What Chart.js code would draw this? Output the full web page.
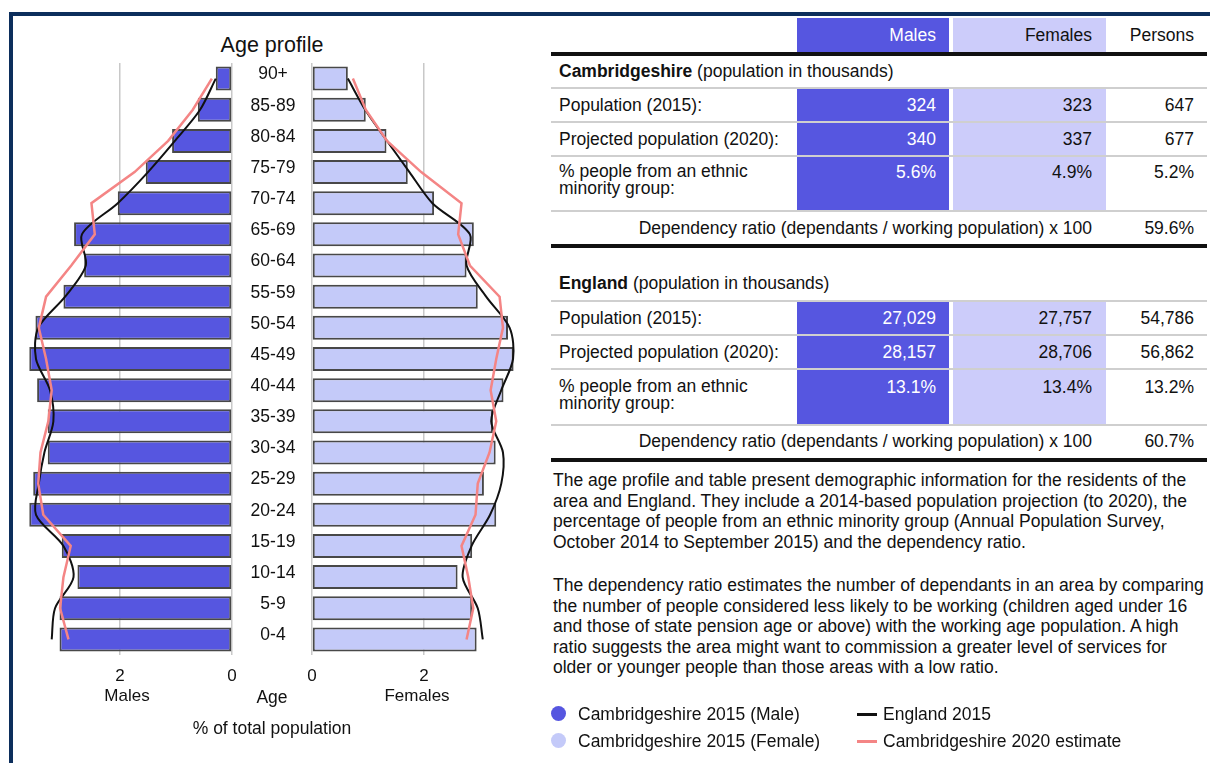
<!DOCTYPE html>
<html>
<head>
<meta charset="utf-8">
<script src="https://cdn.jsdelivr.net/npm/chart.js@4.4.0/dist/chart.umd.min.js"></script>
<style>
  body { margin: 0; background: #fff; font-family: "Liberation Sans", Arial, sans-serif; color: #111; }
  #page { position: relative; width: 1210px; height: 763px; overflow: hidden; }
  #frame { position: absolute; left: 9px; top: 12px; width: 1300px; height: 800px;
           border-top: 4px solid #0c2e5c; border-left: 4px solid #0c2e5c; }
  canvas { position: absolute; }
  .t { position: absolute; white-space: nowrap; font-size: 17.5px; line-height: 20px; }
  .m { right: 274px; color: #fff; text-align: right; }
  .f { right: 118px; text-align: right; }
  .p { right: 16px; text-align: right; }
  .lab { left: 559px; }
  .cellM { position: absolute; left: 797px; width: 152px; background: #5656e0; }
  .cellF { position: absolute; left: 953px; width: 153px; background: #ccccfa; }
  .gray { position: absolute; left: 551px; width: 656px; height: 2px; background: #cfcfcf; }
  .thick { position: absolute; left: 551px; width: 656px; height: 4px; background: #111; }
  .two { line-height: 17px; }
  .para { position: absolute; left: 553px; font-size: 17.5px; line-height: 20.5px; white-space: nowrap; }
  .dot { position: absolute; width: 15px; height: 15px; border-radius: 50%; }
  .dash { position: absolute; width: 20px; height: 3px; }
</style>
</head>
<body>
<div id="page">
  <div id="frame"></div>

  <div class="t" style="left:172px;width:200px;text-align:center;top:33px;font-size:21.5px;line-height:24px;">Age profile</div>
  <canvas id="maleChart" width="222" height="655" style="left:14px;top:55px;"></canvas>
  <canvas id="femaleChart" width="300" height="655" style="left:232px;top:55px;"></canvas>
  <div class="t" style="left:172px;width:200px;text-align:center;top:687px;">Age</div>
  <div class="t" style="left:172px;width:200px;text-align:center;top:718px;">% of total population</div>

  <!-- table: Cambridgeshire -->
  <div class="cellM" style="top:18px;height:34px;"></div>
  <div class="cellF" style="top:18px;height:34px;"></div>
  <div class="t m" style="top:25px;">Males</div>
  <div class="t f" style="top:25px;">Females</div>
  <div class="t p" style="top:25px;">Persons</div>
  <div class="thick" style="top:52px;"></div>

  <div class="t lab" style="top:61px;"><b>Cambridgeshire</b> (population in thousands)</div>
  <div class="cellM" style="top:89px;height:121px;"></div>
  <div class="cellF" style="top:89px;height:121px;"></div>
  <div class="gray" style="top:87px;"></div>
  <div class="t lab" style="top:95px;">Population (2015):</div>
  <div class="t m" style="top:95px;">324</div>
  <div class="t f" style="top:95px;">323</div>
  <div class="t p" style="top:95px;">647</div>
  <div class="gray" style="top:121px;"></div>
  <div class="t lab" style="top:129px;">Projected population (2020):</div>
  <div class="t m" style="top:129px;">340</div>
  <div class="t f" style="top:129px;">337</div>
  <div class="t p" style="top:129px;">677</div>
  <div class="gray" style="top:155px;"></div>
  <div class="t lab two" style="top:163px;">% people from an ethnic<br>minority group:</div>
  <div class="t m" style="top:162px;">5.6%</div>
  <div class="t f" style="top:162px;">4.9%</div>
  <div class="t p" style="top:162px;">5.2%</div>
  <div class="gray" style="top:210px;"></div>
  <div class="t f" style="top:218px;">Dependency ratio (dependants / working population) x 100</div>
  <div class="t p" style="top:218px;">59.6%</div>
  <div class="thick" style="top:244px;"></div>

  <!-- table: England -->
  <div class="t lab" style="top:273px;"><b>England</b> (population in thousands)</div>
  <div class="cellM" style="top:302px;height:122px;"></div>
  <div class="cellF" style="top:302px;height:122px;"></div>
  <div class="gray" style="top:300px;"></div>
  <div class="t lab" style="top:308px;">Population (2015):</div>
  <div class="t m" style="top:308px;">27,029</div>
  <div class="t f" style="top:308px;">27,757</div>
  <div class="t p" style="top:308px;">54,786</div>
  <div class="gray" style="top:334px;"></div>
  <div class="t lab" style="top:342px;">Projected population (2020):</div>
  <div class="t m" style="top:342px;">28,157</div>
  <div class="t f" style="top:342px;">28,706</div>
  <div class="t p" style="top:342px;">56,862</div>
  <div class="gray" style="top:368px;"></div>
  <div class="t lab two" style="top:378px;">% people from an ethnic<br>minority group:</div>
  <div class="t m" style="top:377px;">13.1%</div>
  <div class="t f" style="top:377px;">13.4%</div>
  <div class="t p" style="top:377px;">13.2%</div>
  <div class="gray" style="top:424px;"></div>
  <div class="t f" style="top:431px;">Dependency ratio (dependants / working population) x 100</div>
  <div class="t p" style="top:431px;">60.7%</div>
  <div class="thick" style="top:458px;"></div>

  <div class="para" style="top:470px;">The age profile and table present demographic information for the residents of the<br>area and England. They include a 2014-based population projection (to 2020), the<br>percentage of people from an ethnic minority group (Annual Population Survey,<br>October 2014 to September 2015) and the dependency ratio.</div>
  <div class="para" style="top:575px;">The dependency ratio estimates the number of dependants in an area by comparing<br>the number of people considered less likely to be working (children aged under 16<br>and those of state pension age or above) with the working age population. A high<br>ratio suggests the area might want to commission a greater level of services for<br>older or younger people than those areas with a low ratio.</div>

  <!-- legend -->
  <div class="dot" style="left:551px;top:706px;background:#5656e0;"></div>
  <div class="t" style="left:578px;top:704px;">Cambridgeshire 2015 (Male)</div>
  <div class="dot" style="left:551px;top:733px;background:#c4caf9;"></div>
  <div class="t" style="left:578px;top:731px;">Cambridgeshire 2015 (Female)</div>
  <div class="dash" style="left:857px;top:713px;background:#111;"></div>
  <div class="t" style="left:883px;top:704px;">England 2015</div>
  <div class="dash" style="left:857px;top:740px;background:#f48585;"></div>
  <div class="t" style="left:883px;top:731px;">Cambridgeshire 2020 estimate</div>
</div>

<script>
// Age bands, oldest at the top
const ageBands = ["90+", "85-89", "80-84", "75-79", "70-74", "65-69", "60-64", "55-59", "50-54", "45-49",
                  "40-44", "35-39", "30-34", "25-29", "20-24", "15-19", "10-14", "5-9", "0-4"];

// % of total population
const maleCambs2015   = [0.29, 0.61, 1.07, 1.54, 2.04, 2.82, 2.64, 3.01, 3.51, 3.62, 3.48, 3.29, 3.29, 3.55, 3.62, 3.04, 2.76, 3.08, 3.08];
const femaleCambs2015 = [0.64, 0.96, 1.33, 1.71, 2.18, 2.89, 2.76, 2.96, 3.50, 3.60, 3.42, 3.23, 3.28, 3.07, 3.29, 2.86, 2.60, 2.86, 2.94];
const maleEngland2015   = [0.29, 0.57, 1.02, 1.50, 2.04, 2.68, 2.61, 2.98, 3.46, 3.50, 3.25, 3.19, 3.35, 3.45, 3.50, 3.01, 2.83, 3.16, 3.22];
const femaleEngland2015 = [0.64, 0.95, 1.34, 1.74, 2.15, 2.82, 2.76, 3.11, 3.53, 3.59, 3.38, 3.20, 3.41, 3.38, 3.18, 2.85, 2.69, 2.96, 3.05];
const maleCambs2020   = [0.36, 0.70, 1.14, 1.74, 2.51, 2.45, 2.87, 3.32, 3.45, 3.32, 3.22, 3.28, 3.42, 3.46, 3.37, 2.88, 3.01, 3.07, 2.92];
const femaleCambs2020 = [0.73, 0.96, 1.34, 1.95, 2.67, 2.61, 2.82, 3.35, 3.41, 3.29, 3.19, 3.29, 3.17, 2.96, 2.92, 2.67, 2.79, 2.88, 2.76];

const axisTicks = [0, 2];
const xMax = 3.75;

const MALE_BLUE = "#5656e0";
const FEMALE_BLUE = "#c4caf9";
const PINK = "#f48585";
const FONT = "'Liberation Sans', Arial, sans-serif";

function buildDatasets(bars, england, cambs2020, colour) {
  return [
    {
      type: "line", data: cambs2020, indexAxis: "y", order: 0,
      borderColor: PINK, borderWidth: 2.5, pointRadius: 0, tension: 0, fill: false,
    },
    {
      type: "line", data: england, indexAxis: "y", order: 1,
      borderColor: "#111", borderWidth: 2, pointRadius: 0, tension: 0.3, fill: false,
    },
    {
      type: "bar", data: bars, indexAxis: "y", order: 2,
      backgroundColor: colour, borderColor: "#484848", borderWidth: 2, borderSkipped: false,
      barPercentage: 0.77, categoryPercentage: 1,
    },
  ];
}

function xScale(title, reverse) {
  return {
    reverse: reverse,
    min: 0,
    max: xMax,
    afterBuildTicks: (s) => { s.ticks = axisTicks.map((v) => ({ value: v })); },
    afterFit: (s) => { s.height = 55; },
    ticks: { color: "#111", font: { family: FONT, size: 17 }, padding: 11 },
    grid: { color: "#c8c8c8", lineWidth: 1.5, drawTicks: false },
    border: { display: false },
    title: { display: true, text: title, color: "#111", font: { family: FONT, size: 17 }, padding: { top: 0, bottom: 3 } },
  };
}

// Age band names in the gap between the two halves, placed on the y scale
const ageLabels = {
  id: "ageLabels",
  afterDraw(chart) {
    const { ctx, chartArea, scales } = chart;
    ctx.save();
    ctx.font = "17.5px " + FONT;
    ctx.fillStyle = "#111";
    ctx.textAlign = "center";
    ctx.textBaseline = "middle";
    ageBands.forEach((band, i) => {
      ctx.fillText(band, chartArea.left - 39, scales.y.getPixelForValue(i) - 4);
    });
    ctx.restore();
  },
};

// Males: axis runs right to left
new Chart(document.getElementById("maleChart"), {
  type: "bar",
  data: { labels: ageBands, datasets: buildDatasets(maleCambs2015, maleEngland2015, maleCambs2020, MALE_BLUE) },
  options: {
    indexAxis: "y",
    responsive: false,
    animation: false,
    layout: { padding: { left: 8, right: 4, top: 8, bottom: 0 } },
    plugins: { legend: { display: false }, tooltip: { enabled: false } },
    scales: {
      x: xScale("Males", true),
      y: { display: false },
    },
  },
});

// Females
new Chart(document.getElementById("femaleChart"), {
  type: "bar",
  data: { labels: ageBands, datasets: buildDatasets(femaleCambs2015, femaleEngland2015, femaleCambs2020, FEMALE_BLUE) },
  options: {
    indexAxis: "y",
    responsive: false,
    animation: false,
    layout: { padding: { left: 80, right: 10, top: 8, bottom: 0 } },
    plugins: { legend: { display: false }, tooltip: { enabled: false } },
    scales: {
      x: xScale("Females", false),
      y: { display: false },
    },
  },
  plugins: [ageLabels],
});
</script>
</body>
</html>
